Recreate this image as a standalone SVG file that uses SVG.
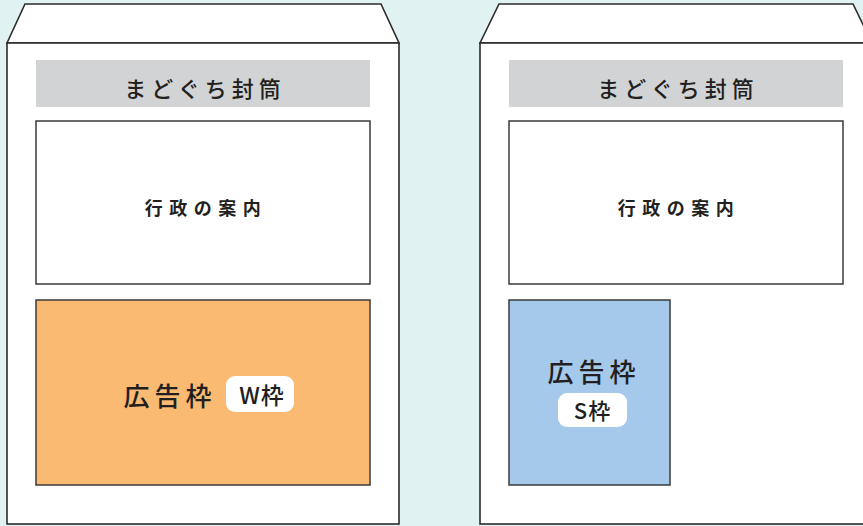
<svg xmlns="http://www.w3.org/2000/svg" width="863" height="526" viewBox="0 0 863 526">
<style>
.env{fill:#fff;stroke:#2b2b2b;stroke-width:1.6}
.bar{fill:#d1d3d4}
.box{stroke:#3a3a3a;stroke-width:1.5}
.t{font-family:"Noto Sans CJK JP","Noto Sans",sans-serif;fill:#231f20;text-anchor:middle}
.pill{fill:#fff}
</style>
<rect width="863" height="526" fill="#e1f2f2"/>
<g id="envelope-left">
<polygon class="env" points="7,43 25,4 381,4 399,43"/>
<rect class="env" x="7" y="43" width="392" height="481"/>
<rect class="bar" x="36" y="60" width="334" height="47"/>
<text class="t" x="205" y="97" font-size="22" letter-spacing="5" font-weight="500">まどぐち封筒</text>
<rect class="box" x="36" y="121" width="334" height="163" fill="#fff"/>
<text class="t" x="206" y="215" font-size="18" letter-spacing="6.5" font-weight="bold">行政の案内</text>
<rect class="box" x="36" y="300" width="334" height="185" fill="#fbba72"/>
<text class="t" x="170" y="406" font-size="26" letter-spacing="5" font-weight="500">広告枠</text>
<rect class="pill" x="226" y="376" width="68" height="36" rx="9"/>
<text class="t" x="262" y="404" font-size="23" font-weight="500" letter-spacing="1">W枠</text>
</g>
<g id="envelope-right">
<polygon class="env" points="480,43 499,4 853,4 872,43"/>
<rect class="env" x="480" y="43" width="400" height="481"/>
<rect class="bar" x="509" y="60" width="334" height="47"/>
<text class="t" x="678" y="97" font-size="22" letter-spacing="5" font-weight="500">まどぐち封筒</text>
<rect class="box" x="509" y="121" width="334" height="163" fill="#fff"/>
<text class="t" x="679" y="215" font-size="18" letter-spacing="6.5" font-weight="bold">行政の案内</text>
<rect class="box" x="509" y="300" width="161" height="185" fill="#a4c9eb"/>
<text class="t" x="594" y="382" font-size="26" letter-spacing="5" font-weight="500">広告枠</text>
<rect class="pill" x="558" y="393" width="69" height="34" rx="9"/>
<text class="t" x="592.5" y="419" font-size="22" font-weight="500" letter-spacing="1">S枠</text>
</g>
</svg>
